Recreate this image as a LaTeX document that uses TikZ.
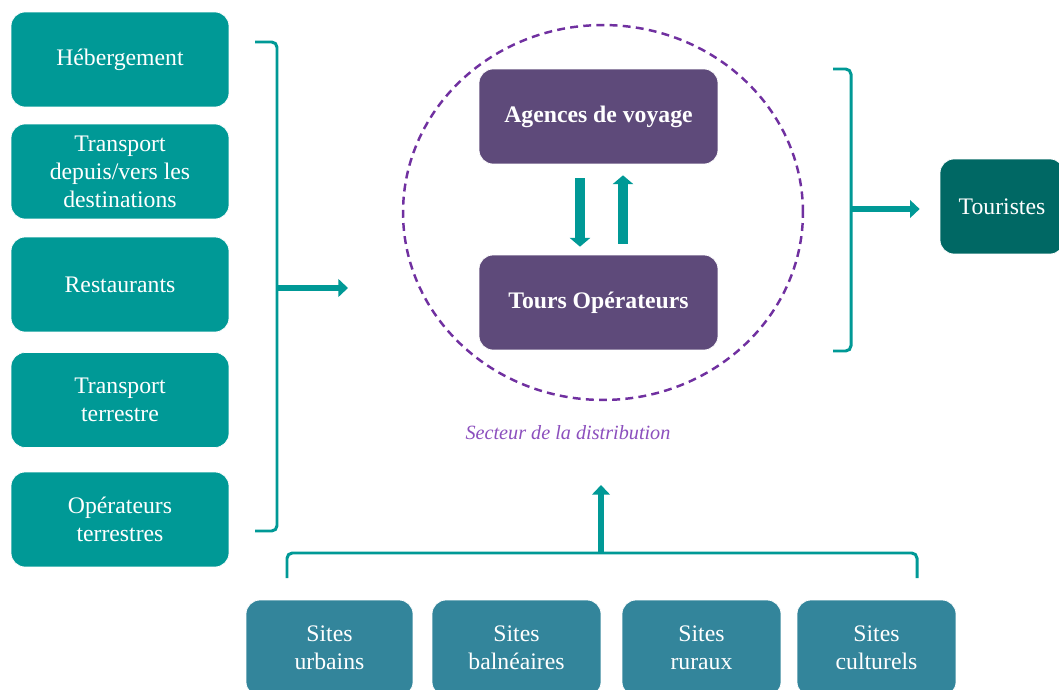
\documentclass[tikz,border=0pt]{standalone}
\usepackage{fontspec}
\setmainfont{Liberation Serif}
\usetikzlibrary{arrows.meta}
\definecolor{sarcelle}{RGB}{0,153,150}
\definecolor{sarcelleFonce}{RGB}{0,104,100}
\definecolor{sites}{RGB}{51,133,155}
\definecolor{violet}{RGB}{94,74,122}
\definecolor{tirets}{RGB}{112,48,160}
\definecolor{legende}{RGB}{140,80,190}

\begin{document}
\begin{tikzpicture}[x=0.02cm,y=-0.02cm,
	boite/.style={fill=sarcelle,draw=white,line width=.4pt,rounded corners=8pt,text=white,align=center,
		font=\fontsize{13.5}{16}\selectfont,minimum width=4.36cm,minimum height=1.9cm,inner sep=2pt},
	distrib/.style={boite,fill=violet,minimum width=4.78cm,font=\fontsize{13.5}{16}\selectfont\bfseries},
	site/.style={boite,fill=sites,minimum height=1.92cm},
	crochet/.style={draw=sarcelle,line width=1.7pt,rounded corners=3pt},
	fleche/.style={draw=sarcelle,line width=3.4pt,-{Triangle[length=5.5pt,width=10pt]}},
	grosse/.style={draw=sarcelle,line width=5.7pt,-{Triangle[length=5pt,width=11.5pt]}}]
	\useasboundingbox (0,0) rectangle (1059,690);
	\clip (0,0) rectangle (1059,690);
	\fill[white] (0,0) rectangle (1059,690);

	\node[boite] (heb) at (120,59.5) {Hébergement};
	\node[boite] (transdest) at (120,171.5) {Transport\\depuis/vers les\\destinations};
	\node[boite] (resto) at (120,284.5) {Restaurants};
	\node[boite] (transterr) at (120,400) {Transport\\terrestre};
	\node[boite] (opterr) at (120,519.5) {Opérateurs\\terrestres};

	\draw[crochet] (255,42) -- (277,42) -- (277,531) -- (255,531);
	\coordinate (milieugauche) at (277,288);
	\coordinate (entree) at (348,288);
	\draw[fleche] (milieugauche) -- (entree);

	\draw[tirets,dashed,line width=1.4pt,dash pattern=on 4.5pt off 3pt] (603,212.5) ellipse [x radius=4cm,y radius=3.75cm];
	\node[distrib] (agences) at (598.5,116.5) {Agences de voyage};
	\node[distrib] (tours) at (598.5,302.5) {Tours Opérateurs};
	\draw[grosse] ([xshift=-0.37cm,yshift=-0.28cm]agences.south) -- ([xshift=-0.37cm,yshift=0.16cm]tours.north);
	\draw[grosse] ([xshift=0.49cm,yshift=0.22cm]tours.north) -- ([xshift=0.49cm,yshift=-0.22cm]agences.south);
	\node[text=legende,font=\fontsize{11.5}{14}\selectfont\itshape] (secteur) at (568,433) {Secteur de la distribution};

	\draw[crochet] (833,69) -- (851,69) -- (851,351) -- (833,351);
	\coordinate (milieudroit) at (851,209);
	\node[boite,fill=sarcelleFonce,minimum width=2.48cm] (touristes) at (1002,206.5) {Touristes};
	\draw[fleche,shorten >=0.4cm] (milieudroit) -- (milieudroit -| touristes.west);

	\node[site,minimum width=3.34cm] (urbains) at (329.5,648) {Sites\\urbains};
	\node[site,minimum width=3.38cm] (balneaires) at (516.5,648) {Sites\\balnéaires};
	\node[site,minimum width=3.18cm] (ruraux) at (701.5,648) {Sites\\ruraux};
	\node[site,minimum width=3.18cm] (culturels) at (876.5,648) {Sites\\culturels};

	\draw[crochet] (287,578) -- (287,553) -- (917,553) -- (917,578);
	\coordinate (milieubas) at (601,553);
	\coordinate (sortie) at (601,485);
	\draw[fleche] (milieubas) -- (sortie);
\end{tikzpicture}
\end{document}
